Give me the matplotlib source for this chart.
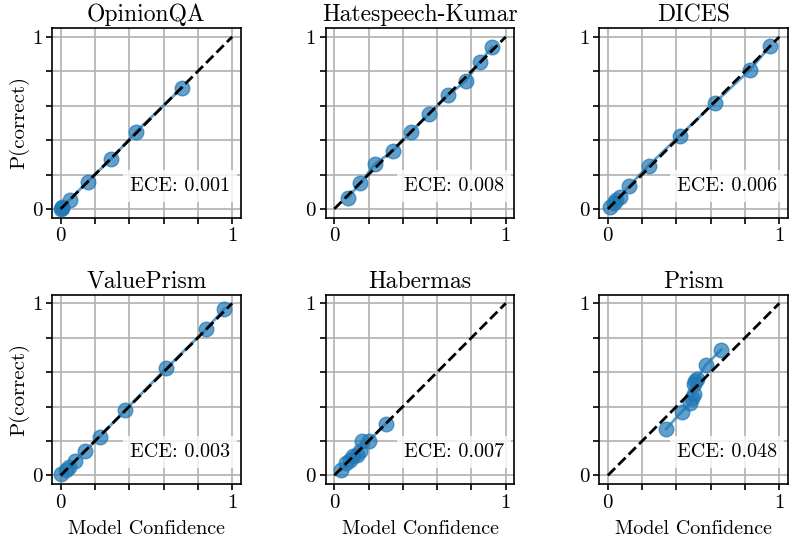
import matplotlib
matplotlib.use("Agg")
import matplotlib.pyplot as plt
import numpy as np

# calibration curves: (model confidence, P(correct))
titles = ["OpinionQA", "Hatespeech-Kumar", "DICES", "ValuePrism", "Habermas", "Prism"]
ece_values = [0.001, 0.008, 0.006, 0.003, 0.007, 0.048]

opinionqa_x = [0.0, 0.005, 0.01, 0.052, 0.157, 0.293, 0.44, 0.709]
opinionqa_y = [0.0, 0.004, 0.01, 0.052, 0.159, 0.289, 0.449, 0.705]

hatespeech_x = [0.078, 0.151, 0.238, 0.343, 0.448, 0.552, 0.661, 0.766, 0.849, 0.921]
hatespeech_y = [0.066, 0.148, 0.262, 0.338, 0.449, 0.551, 0.660, 0.742, 0.856, 0.940]

dices_x = [0.014, 0.033, 0.05, 0.072, 0.126, 0.237, 0.418, 0.623, 0.827, 0.946]
dices_y = [0.014, 0.033, 0.05, 0.072, 0.136, 0.252, 0.425, 0.617, 0.806, 0.946]

valueprism_x = [0.004, 0.03, 0.05, 0.082, 0.142, 0.227, 0.377, 0.616, 0.847, 0.955]
valueprism_y = [0.01, 0.033, 0.05, 0.082, 0.142, 0.224, 0.38, 0.622, 0.848, 0.969]

habermas_x = [0.04, 0.07, 0.09, 0.11, 0.13, 0.15, 0.16, 0.20, 0.30]
habermas_y = [0.03, 0.07, 0.09, 0.11, 0.12, 0.14, 0.20, 0.20, 0.30]

prism_x = [0.34, 0.43, 0.48, 0.49, 0.50, 0.50, 0.51, 0.52, 0.57, 0.66]
prism_y = [0.27, 0.37, 0.42, 0.45, 0.47, 0.53, 0.55, 0.56, 0.64, 0.73]

series = [
    (opinionqa_x, opinionqa_y),
    (hatespeech_x, hatespeech_y),
    (dices_x, dices_y),
    (valueprism_x, valueprism_y),
    (habermas_x, habermas_y),
    (prism_x, prism_y),
]

plt.rcParams["font.family"] = "serif"
plt.rcParams["font.serif"] = ["cmr10"]
plt.rcParams["mathtext.fontset"] = "cm"
plt.rcParams["axes.unicode_minus"] = False
plt.rcParams["axes.formatter.use_mathtext"] = True

fig, axes = plt.subplots(2, 3, figsize=(7.89, 5.42), dpi=100)
fig.subplots_adjust(left=0.066, right=0.9987, bottom=0.107, top=0.948,
                    wspace=0.45, hspace=0.407)

ticks = np.linspace(0, 1, 6)
for i, ax in enumerate(axes.flat):
    x, y = series[i]
    ax.plot(x, y, "o-", color="tab:blue", alpha=0.7, markersize=10.5, linewidth=2, zorder=3)
    ax.plot([0, 1], [0, 1], "k--", linewidth=2, zorder=4)
    ax.set_xlim(-0.05, 1.05)
    ax.set_ylim(-0.05, 1.05)
    ax.set_xticks(ticks)
    ax.set_yticks(ticks)
    ax.set_xticklabels(["0", "", "", "", "", "1"])
    ax.set_yticklabels(["0", "", "", "", "", "1"])
    ax.tick_params(labelsize=15, length=4, width=1.2, pad=3)
    ax.grid(True, color="#b0b0b0", linewidth=1.2, zorder=0)
    ax.set_axisbelow(True)
    for sp in ax.spines.values():
        sp.set_linewidth(1.2)
    ax.set_title(titles[i], fontsize=17, pad=5)
    ax.text(0.944, 0.167, f"ECE: {ece_values[i]:.3f}", transform=ax.transAxes,
            ha="right", va="center", fontsize=14.5, zorder=5,
            bbox=dict(boxstyle="square,pad=0.35", facecolor="white",
                      edgecolor="none", alpha=0.8))
    if i % 3 == 0:
        ax.set_ylabel("P(correct)", fontsize=15, labelpad=2)
    if i >= 3:
        ax.set_xlabel("Model Confidence", fontsize=14.5, labelpad=6)

fig.savefig("out.png", dpi=100)
